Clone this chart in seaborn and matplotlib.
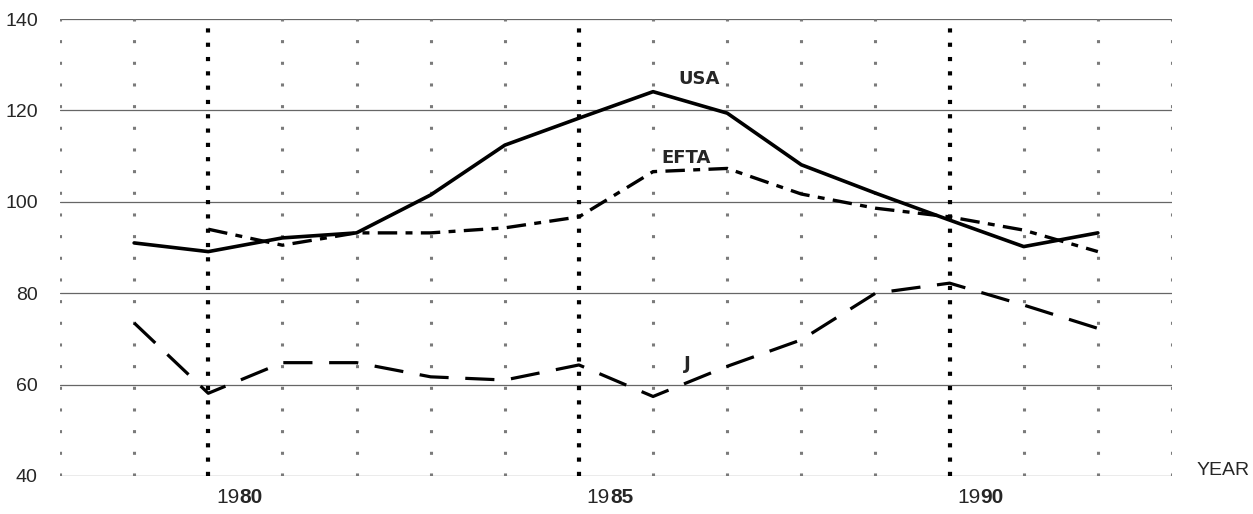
import numpy as np
import pandas as pd
import seaborn as sns
import matplotlib.pyplot as plt

years = list(range(1979, 1993))
usa = [91.0, 89.1, 92.1, 93.2, 101.5, 112.4, 118.3, 124.1, 119.4, 108.1, 101.9, 96.0, 90.2, 93.2]
efta_years = list(range(1980, 1993))
efta = [94.0, 90.5, 93.2, 93.2, 94.3, 96.7, 106.6, 107.3, 101.7, 98.6, 96.7, 93.8, 89.1]
japan = [73.5, 58.1, 64.8, 64.8, 61.7, 61.0, 64.3, 57.4, 64.0, 69.8, 80.0, 82.2, 77.4, 72.3]

y_ticks = [40, 60, 80, 100, 120, 140]
major_years = [1980, 1985, 1990]

sns.set_style("white")
plt.rcParams['font.family'] = ['Liberation Sans', 'DejaVu Sans']
plt.rcParams['lines.scale_dashes'] = False

fig = plt.figure(figsize=(12.53, 5.14), dpi=100)
ax = fig.add_axes([60 / 1253, 38 / 514, 1112 / 1253, 457 / 514])

# horizontal grid
for v in y_ticks:
    ax.axhline(v, color='#666666', lw=0.9, zorder=1)

# vertical dotted grid
for yr in range(1978, 1994):
    if yr in major_years:
        ax.axvline(yr, color='black', lw=3.0, linestyle=(0, (3.0, 7.3)), zorder=2)
    else:
        ax.axvline(yr, color='#7a7a7a', lw=2.2, linestyle=(0, (2.2, 13.4)), zorder=2)

sns.lineplot(x=years, y=usa, ax=ax, color='black', lw=2.6, zorder=3)
sns.lineplot(x=efta_years, y=efta, ax=ax, color='black', lw=2.4,
             linestyle=(0, (14, 6, 5, 6)), zorder=3)
sns.lineplot(x=years, y=japan, ax=ax, color='black', lw=2.3,
             linestyle=(0, (21, 12)), zorder=3)

lab = dict(fontsize=13, fontweight='bold', family='DejaVu Sans', ha='center', va='center')
ax.text(1986.62, 126.9, 'USA', **lab)
ax.text(1986.45, 109.6, 'EFTA', **lab)
ax.text(1986.46, 64.5, 'J', **lab)

ax.set_xlim(1978, 1993)
ax.set_ylim(40, 140)
ax.set_yticks(y_ticks)
ax.set_yticklabels([str(v) for v in y_ticks], fontsize=14)
ax.tick_params(axis='y', length=0, pad=16)
ax.set_xticks([])
for s in ax.spines.values():
    s.set_visible(False)

for yr in major_years:
    ax.text(yr + 0.42, 35.3, str(yr)[:2], fontsize=15, ha='right', va='center')
    ax.text(yr + 0.42, 35.3, str(yr)[2:], fontsize=15, fontweight='bold', ha='left', va='center')

ax.text(1993.69, 41.3, 'YEAR', fontsize=14, ha='center', va='center', clip_on=False)

fig.savefig('out.png', dpi=100)
